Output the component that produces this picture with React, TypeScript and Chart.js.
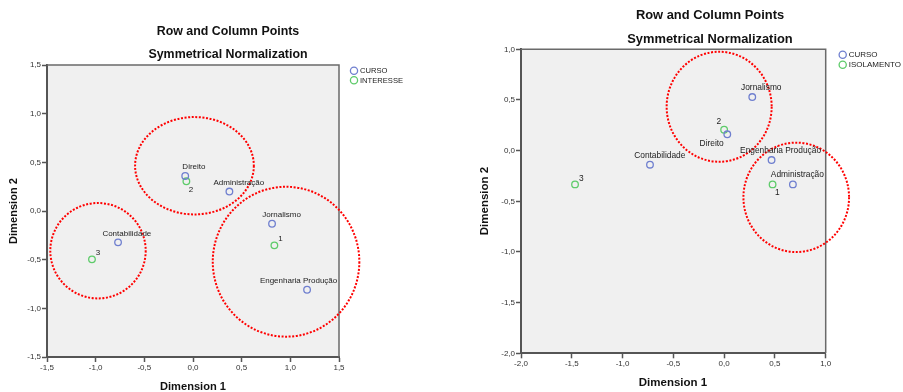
import React, { useEffect, useRef } from "react";
import { Chart, registerables } from "chart.js";

Chart.register(...registerables);

// ---- Left panel: CURSO x INTERESSE ----
const CURSO_LABELS_A = ["Direito", "Administração", "Jornalismo", "Engenharia Produção", "Contabilidade"];
const CURSO_X_A = [-0.08, 0.374, 0.812, 1.172, -0.77];
const CURSO_Y_A = [0.36, 0.2, -0.131, -0.809, -0.322];
const INTERESSE_LABELS = ["1", "2", "3"];
const INTERESSE_X = [0.836, -0.068, -1.038];
const INTERESSE_Y = [-0.353, 0.305, -0.497];
// highlighted groups: centre x, centre y, radius x, radius y (data units)
const GROUPS_A_CX = [0.015, -0.976, 0.956];
const GROUPS_A_CY = [0.465, -0.408, -0.521];
const GROUPS_A_RX = [0.61, 0.49, 0.753];
const GROUPS_A_RY = [0.5, 0.49, 0.77];
const X_TICKS_A = [-1.5, 1.5];
const Y_TICKS_A = [-1.5, 1.5];

// ---- Right panel: CURSO x ISOLAMENTO ----
const CURSO_LABELS_B = ["Direito", "Administração", "Jornalismo", "Engenharia Produção", "Contabilidade"];
const CURSO_X_B = [0.031, 0.677, 0.277, 0.467, -0.73];
const CURSO_Y_B = [0.161, -0.333, 0.529, -0.093, -0.139];
const ISOLAMENTO_LABELS = ["1", "2", "3"];
const ISOLAMENTO_X = [0.477, 0.0, -1.468];
const ISOLAMENTO_Y = [-0.333, 0.206, -0.333];
const GROUPS_B_CX = [-0.049, 0.71];
const GROUPS_B_CY = [0.433, -0.461];
const GROUPS_B_RX = [0.517, 0.52];
const GROUPS_B_RY = [0.543, 0.54];
const X_TICKS_B = [-2.0, 1.0];
const Y_TICKS_B = [-2.0, 1.0];

const TITLE_1 = "Row and Column Points";
const TITLE_2 = "Symmetrical Normalization";
const X_TITLE = "Dimension 1";
const Y_TITLE = "Dimension 2";

const BLUE = "#6f7fcf";
const GREEN = "#5ecb6a";
const FONT = "'Liberation Sans', Arial, sans-serif";

// label offsets (px) from the marker to the label centre
const OFFS_CURSO_A: [number, number][] = [[8.7, -9], [9.4, -9], [9.5, -9.4], [-8.5, -9.4], [8.8, -8.7]];
const OFFS_ROW_A: [number, number][] = [[6, -6.3], [4.7, 8], [6, -7]];
const OFFS_CURSO_B: [number, number][] = [[-15.6, 9], [4.5, -9.3], [9, -9.3], [9, -9], [9.8, -9]];
const OFFS_ROW_B: [number, number][] = [[4.7, 8.4], [-5.3, -8], [6.3, -6]];

type Panel = {
  width: number;
  left: number;
  cursoLabels: string[];
  cursoX: number[];
  cursoY: number[];
  rowName: string;
  rowLabels: string[];
  rowX: number[];
  rowY: number[];
  gcx: number[];
  gcy: number[];
  grx: number[];
  gry: number[];
  xRange: number[];
  yRange: number[];
  offCurso: [number, number][];
  offRow: [number, number][];
  area: { left: number; right: number; top: number; bottom: number };
  titleX: number;
  titleY: [number, number];
  titleSize: number;
  xTitle: [number, number];
  yTitle: [number, number];
  axisTitleSize: number;
  labelSize: number;
  legend: { x: number; y: number; gap: number; size: number };
};

const fmt = (v: number | string) => Number(v).toFixed(1).replace(".", ",");

function ChartPanel({ p }: { p: Panel }) {
  const ref = useRef<HTMLCanvasElement | null>(null);

  useEffect(() => {
    if (!ref.current) return;
    const H = 392;
    const yAxisWidth = p.area.left;
    const xAxisHeight = H - p.area.bottom;

    const decor = {
      id: "decor",
      beforeDraw(chart: any) {
        const { ctx, chartArea: a } = chart;
        ctx.save();
        ctx.fillStyle = "#f0f0f0";
        ctx.fillRect(a.left, a.top, a.right - a.left, a.bottom - a.top);
        ctx.restore();
      },
      afterDraw(chart: any) {
        const { ctx, chartArea: a } = chart;
        const xs = chart.scales.x;
        const ys = chart.scales.y;
        ctx.save();
        // top and right frame
        ctx.strokeStyle = "#6a6a6a";
        ctx.lineWidth = 1.5;
        ctx.beginPath();
        ctx.moveTo(a.left, a.top);
        ctx.lineTo(a.right, a.top);
        ctx.lineTo(a.right, a.bottom);
        ctx.stroke();

        // dotted group ellipses
        ctx.strokeStyle = "#ff0000";
        ctx.lineWidth = 2;
        ctx.setLineDash([2, 1.6]);
        for (let i = 0; i < p.gcx.length; i++) {
          const cx = xs.getPixelForValue(p.gcx[i]);
          const cy = ys.getPixelForValue(p.gcy[i]);
          const rx = Math.abs(xs.getPixelForValue(p.gcx[i] + p.grx[i]) - cx);
          const ry = Math.abs(ys.getPixelForValue(p.gcy[i] + p.gry[i]) - cy);
          ctx.beginPath();
          ctx.ellipse(cx, cy, rx, ry, 0, 0, Math.PI * 2);
          ctx.stroke();
        }
        ctx.setLineDash([]);

        // point labels
        ctx.fillStyle = "#222";
        ctx.font = `${p.labelSize}px ${FONT}`;
        ctx.textAlign = "center";
        ctx.textBaseline = "middle";
        p.cursoLabels.forEach((t, i) => {
          const x = xs.getPixelForValue(p.cursoX[i]);
          const y = ys.getPixelForValue(p.cursoY[i]);
          ctx.fillText(t, x + p.offCurso[i][0], y + p.offCurso[i][1]);
        });
        p.rowLabels.forEach((t, i) => {
          const x = xs.getPixelForValue(p.rowX[i]);
          const y = ys.getPixelForValue(p.rowY[i]);
          ctx.fillText(t, x + p.offRow[i][0], y + p.offRow[i][1]);
        });

        // titles
        ctx.fillStyle = "#111";
        ctx.font = `bold ${p.titleSize}px ${FONT}`;
        ctx.fillText(TITLE_1, p.titleX, p.titleY[0]);
        ctx.fillText(TITLE_2, p.titleX, p.titleY[1]);

        // axis titles
        ctx.font = `bold ${p.axisTitleSize}px ${FONT}`;
        ctx.fillText(X_TITLE, p.xTitle[0], p.xTitle[1]);
        ctx.save();
        ctx.translate(p.yTitle[0], p.yTitle[1]);
        ctx.rotate(-Math.PI / 2);
        ctx.fillText(Y_TITLE, 0, 0);
        ctx.restore();

        // legend
        const L = p.legend;
        const entries: [string, string][] = [["CURSO", BLUE], [p.rowName, GREEN]];
        ctx.font = `${L.size}px ${FONT}`;
        ctx.textAlign = "left";
        entries.forEach(([name, col], i) => {
          const y = L.y + i * L.gap;
          ctx.strokeStyle = col;
          ctx.lineWidth = 1.3;
          ctx.beginPath();
          ctx.arc(L.x, y, 3.6, 0, Math.PI * 2);
          ctx.stroke();
          ctx.fillStyle = "#222";
          ctx.fillText(name, L.x + 6, y + 0.5);
        });
        ctx.restore();
      },
    };

    const scaleCommon = (range: number[]) => ({
      type: "linear" as const,
      min: range[0],
      max: range[1],
      border: { display: true, color: "#555", width: 2 },
      grid: {
        drawOnChartArea: false,
        drawTicks: true,
        tickLength: 5,
        tickWidth: 1.5,
        color: "#555",
      },
      ticks: {
        stepSize: 0.5,
        color: "#333",
        font: { size: 8, family: FONT },
        callback: (v: number | string) => fmt(v),
      },
    });

    const chart = new Chart(ref.current, {
      type: "scatter",
      data: {
        datasets: [
          {
            label: "CURSO",
            data: p.cursoX.map((x, i) => ({ x, y: p.cursoY[i] })),
            borderColor: BLUE,
            backgroundColor: "rgba(0,0,0,0)",
            pointRadius: 3.3,
            borderWidth: 1.3,
          },
          {
            label: p.rowName,
            data: p.rowX.map((x, i) => ({ x, y: p.rowY[i] })),
            borderColor: GREEN,
            backgroundColor: "rgba(0,0,0,0)",
            pointRadius: 3.3,
            borderWidth: 1.3,
          },
        ],
      },
      options: {
        responsive: false,
        animation: false,
        layout: {
          padding: {
            left: 0,
            top: p.area.top,
            right: p.width - p.area.right,
            bottom: 0,
          },
        },
        plugins: {
          legend: { display: false },
          title: { display: false },
          tooltip: { enabled: false },
        },
        scales: {
          x: {
            ...scaleCommon(p.xRange),
            position: "bottom",
            ticks: { ...scaleCommon(p.xRange).ticks, padding: 1, maxRotation: 0 },
            afterFit: (s: any) => {
              s.height = xAxisHeight;
            },
          },
          y: {
            ...scaleCommon(p.yRange),
            position: "left",
            ticks: { ...scaleCommon(p.yRange).ticks, padding: 1 },
            afterFit: (s: any) => {
              s.width = yAxisWidth;
            },
          },
        },
      },
      plugins: [decor],
    } as any);

    return () => chart.destroy();
  }, [p]);

  return (
    <canvas
      ref={ref}
      width={p.width}
      height={392}
      style={{ position: "absolute", left: p.left, top: 0, width: p.width, height: 392 }}
    />
  );
}

const PANEL_A: Panel = {
  width: 450,
  left: 0,
  cursoLabels: CURSO_LABELS_A,
  cursoX: CURSO_X_A,
  cursoY: CURSO_Y_A,
  rowName: "INTERESSE",
  rowLabels: INTERESSE_LABELS,
  rowX: INTERESSE_X,
  rowY: INTERESSE_Y,
  gcx: GROUPS_A_CX,
  gcy: GROUPS_A_CY,
  grx: GROUPS_A_RX,
  gry: GROUPS_A_RY,
  xRange: X_TICKS_A,
  yRange: Y_TICKS_A,
  offCurso: OFFS_CURSO_A,
  offRow: OFFS_ROW_A,
  area: { left: 47, right: 339, top: 65, bottom: 357 },
  titleX: 228,
  titleY: [31.7, 54.3],
  titleSize: 12.4,
  xTitle: [193, 386.7],
  yTitle: [13.5, 211],
  axisTitleSize: 11.1,
  labelSize: 8,
  legend: { x: 354, y: 70.7, gap: 9.5, size: 7.6 },
};

const PANEL_B: Panel = {
  width: 453,
  left: 450,
  cursoLabels: CURSO_LABELS_B,
  cursoX: CURSO_X_B,
  cursoY: CURSO_Y_B,
  rowName: "ISOLAMENTO",
  rowLabels: ISOLAMENTO_LABELS,
  rowX: ISOLAMENTO_X,
  rowY: ISOLAMENTO_Y,
  gcx: GROUPS_B_CX,
  gcy: GROUPS_B_CY,
  grx: GROUPS_B_RX,
  gry: GROUPS_B_RY,
  xRange: X_TICKS_B,
  yRange: Y_TICKS_B,
  offCurso: OFFS_CURSO_B,
  offRow: OFFS_ROW_B,
  area: { left: 71, right: 375.7, top: 49.3, bottom: 353.3 },
  titleX: 260,
  titleY: [15, 39.3],
  titleSize: 12.9,
  xTitle: [223, 382.7],
  yTitle: [35, 201],
  axisTitleSize: 11.5,
  labelSize: 8.4,
  legend: { x: 392.7, y: 54.7, gap: 10, size: 8 },
};

export default function App() {
  return (
    <div
      style={{
        position: "absolute",
        left: 0,
        top: 0,
        width: 903,
        height: 392,
        background: "#ffffff",
        overflow: "hidden",
      }}
    >
      <ChartPanel p={PANEL_A} />
      <ChartPanel p={PANEL_B} />
    </div>
  );
}
